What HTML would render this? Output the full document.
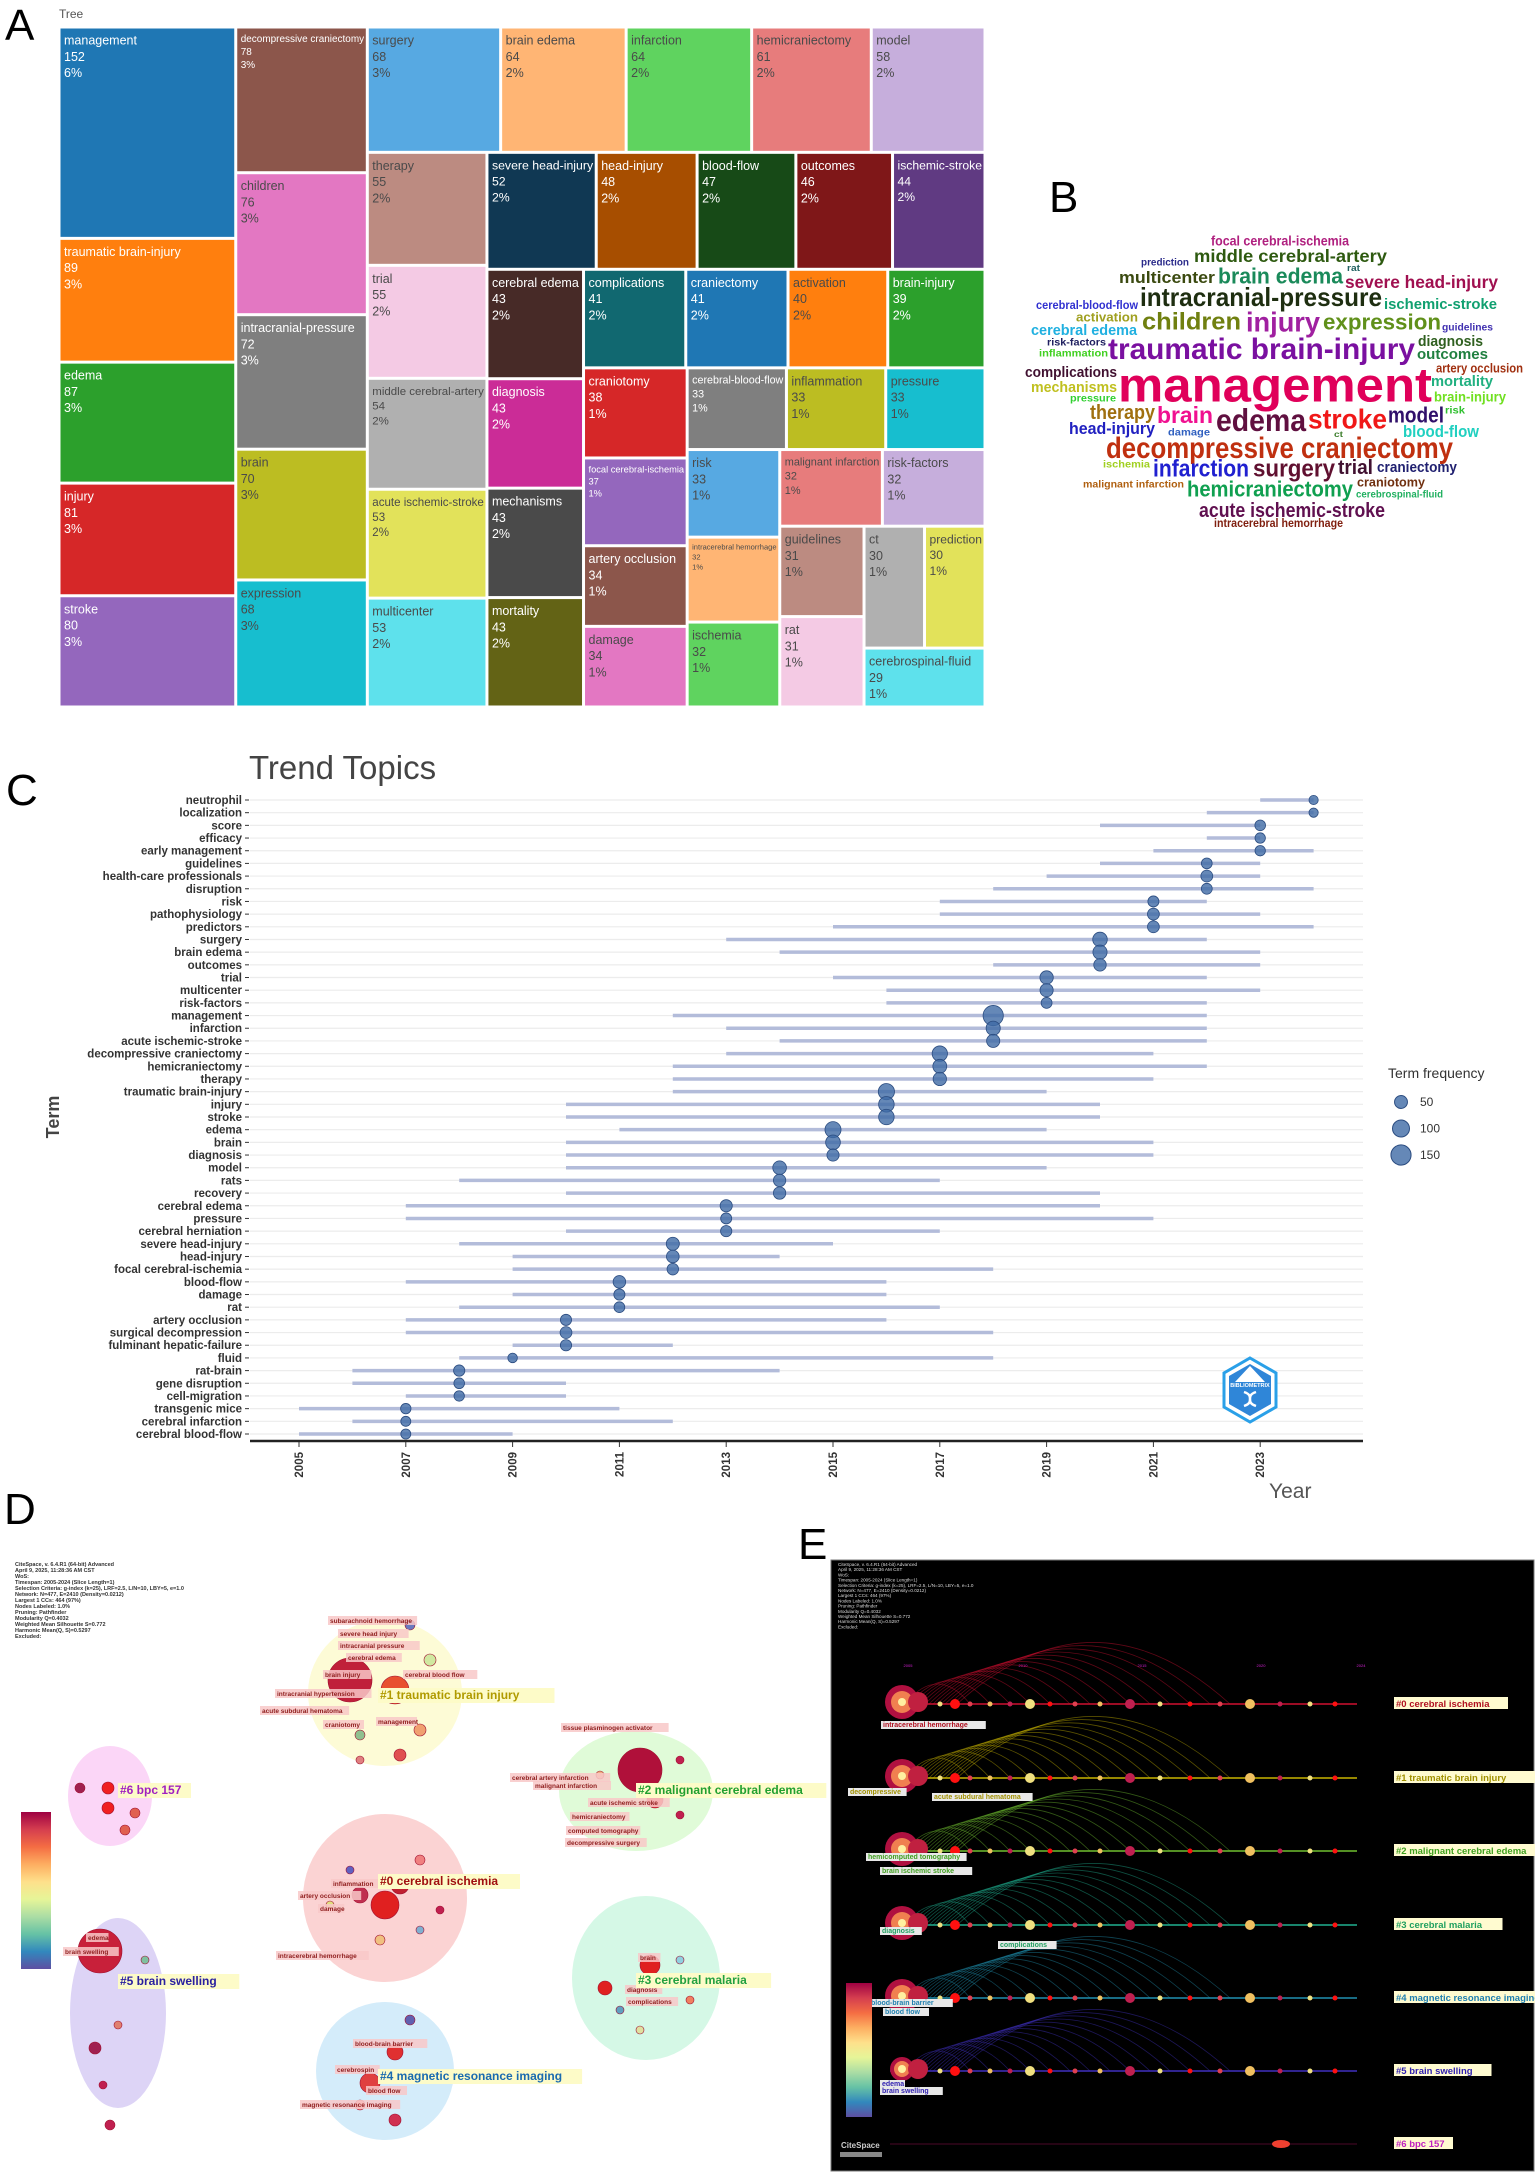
<!DOCTYPE html>
<html><head><meta charset="utf-8">
<style>
html,body{margin:0;padding:0;background:#fff;}
svg{display:block;font-family:"Liberation Sans",sans-serif;}
</style></head>
<body>
<svg id="fig" width="1535" height="2172" viewBox="0 0 1535 2172" xmlns="http://www.w3.org/2000/svg">
<g font-family="Liberation Sans" font-size="44" fill="#000">
<text x="5" y="40">A</text>
<text x="1049" y="212">B</text>
<text x="6" y="805">C</text>
<text x="4" y="1524">D</text>
<text x="798" y="1559">E</text>
</g>
<text x="59" y="18" font-size="12" fill="#555">Tree</text>
<g id="treemap"></g>
<g id="cloud"></g>
<g id="trend"></g>
<g id="panelD"></g>
<g id="panelE"></g>
</svg>
<script>
const NS="http://www.w3.org/2000/svg";
function mk(tag,attrs,parent){const e=document.createElementNS(NS,tag);for(const k in attrs)e.setAttribute(k,attrs[k]);if(parent)parent.appendChild(e);return e;}

/* ---------- TREEMAP DATA ---------- */
const tmNames=["management","traumatic brain-injury","edema","injury","stroke","decompressive craniectomy","children","intracranial-pressure","brain","expression","surgery","brain edema","infarction","hemicraniectomy","model","therapy","trial","middle cerebral-artery","acute ischemic-stroke","multicenter","severe head-injury","head-injury","blood-flow","outcomes","ischemic-stroke","cerebral edema","diagnosis","mechanisms","mortality","complications","craniectomy","activation","brain-injury","craniotomy","focal cerebral-ischemia","artery occlusion","damage","cerebral-blood-flow","inflammation","pressure","risk","intracerebral hemorrhage","ischemia","malignant infarction","risk-factors","guidelines","rat","ct","prediction","cerebrospinal-fluid"];
const tmValues=[152,89,87,81,80,78,76,72,70,68,68,64,64,61,58,55,55,54,53,53,52,48,47,46,44,43,43,43,43,41,41,40,39,38,37,34,34,33,33,33,33,32,32,32,32,31,31,30,30,29];
const tmColors=["#1f77b4","#ff7f0e","#2ca02c","#d62728","#9467bd","#8c564b","#e377c2","#7f7f7f","#bcbd22","#17becf","#57a9e2","#ffb574","#5fd35f","#e77c7c","#c6aedc","#bc8b81","#f4cae4","#b0b0b0","#e2e25a","#5ee1ec","#103853","#a74e00","#174a17","#7f1718","#603a82","#472a27","#cb2c97","#4a4a4a","#636315","#116870","#1f77b4","#ff7f0e","#2ca02c","#d62728","#9467bd","#8c564b","#e377c2","#7f7f7f","#bcbd22","#17becf","#57a9e2","#ffb574","#5fd35f","#e77c7c","#c6aedc","#bc8b81","#f4cae4","#b0b0b0","#e2e25a","#5ee1ec"];
const tmDarkText=["children","brain","expression","surgery","brain edema","infarction","hemicraniectomy","model","therapy","trial","middle cerebral-artery","acute ischemic-stroke","multicenter","inflammation","pressure","risk","intracerebral hemorrhage","ischemia","malignant infarction","risk-factors","guidelines","rat","ct","prediction","cerebrospinal-fluid","damage","activation"];

(function(){
 const g=document.getElementById('treemap');
 const X0=59,Y0=27,W=926,H=680;
 const total=tmValues.reduce((a,b)=>a+b,0);
 const unit=W*H/total;
 const areas=tmValues.map(v=>v*unit);
 const rects=[];
 let rx=X0,ry=Y0,rw=W,rh=H,i=0;
 function worst(row,side){const s=row.reduce((a,b)=>a+b,0);const mx=Math.max(...row),mn=Math.min(...row);return Math.max(side*side*mx/(s*s),s*s/(side*side*mn));}
 while(i<areas.length){
  const side=Math.min(rw,rh);let row=[areas[i]];let j=i+1;
  const tol=(areas.length-i<=3)?1.3:1.0;
  while(j<areas.length && worst(row.concat([areas[j]]),side)<=worst(row,side)*tol){row.push(areas[j]);j++;}
  const s=row.reduce((a,b)=>a+b,0);
  if(rw>=rh){const cw=s/rh;let yy=ry;for(let k=0;k<row.length;k++){const hh=row[k]/cw;rects.push([rx,yy,cw,hh]);yy+=hh;}rx+=cw;rw-=cw;}
  else{const ch=s/rw;let xx=rx;for(let k=0;k<row.length;k++){const ww=row[k]/ch;rects.push([xx,ry,ww,ch]);xx+=ww;}ry+=ch;rh-=ch;}
  i=j;
 }
 const cv=document.createElement('canvas').getContext('2d');
 rects.forEach((r,k)=>{
  const cell=mk('g',{},g);
  
  
  mk('rect',{x:r[0]+1.5,y:r[1]+1.5,width:Math.max(0,r[2]-3),height:Math.max(0,r[3]-3),fill:tmColors[k]},cell);
  const col=tmDarkText.includes(tmNames[k])?'#4a4a4a':'#fff';
  let fs=12.5;cv.font=fs+'px "Liberation Sans"';
  const wmax=r[2]-8;const tw=cv.measureText(tmNames[k]).width;
  if(tw>wmax)fs=Math.max(7,fs*wmax/tw);
  const lh=fs*1.3;
  const t=mk('text',{x:r[0]+5,y:r[1]+5+fs,'font-size':fs,fill:col},cell);
  t.textContent=tmNames[k];
  const t2=mk('text',{x:r[0]+5,y:r[1]+5+fs+lh,'font-size':fs,fill:col},cell);
  t2.textContent=tmValues[k];
  const t3=mk('text',{x:r[0]+5,y:r[1]+5+fs+2*lh,'font-size':fs,fill:col},cell);
  t3.textContent=Math.round(tmValues[k]/total*100)+'%';
 });
})();

/* ---------- WORD CLOUD ---------- */
const wcWords=["focal cerebral-ischemia","middle cerebral-artery","prediction","rat","multicenter","brain edema","severe head-injury","intracranial-pressure","cerebral-blood-flow","ischemic-stroke","activation","children","injury","expression","cerebral edema","guidelines","risk-factors","traumatic brain-injury","diagnosis","inflammation","outcomes","complications","artery occlusion","management","mortality","mechanisms","pressure","brain-injury","therapy","brain","edema","stroke","model","risk","head-injury","damage","ct","blood-flow","decompressive craniectomy","ischemia","infarction","surgery","trial","craniectomy","malignant infarction","hemicraniectomy","craniotomy","cerebrospinal-fluid","acute ischemic-stroke","intracerebral hemorrhage"];
const wcLeft=[1211,1194,1141,1347,1119,1218,1345,1140,1036,1384,1076,1142,1246,1323,1031,1442,1047,1108,1418,1039,1417,1025,1436,1118,1431,1031,1070,1434,1090,1157,1216,1308,1388,1445,1069,1168,1334,1403,1106,1103,1153,1253,1338,1377,1083,1187,1357,1356,1199,1214];
const wcRight=[1349,1387,1189,1360,1215,1343,1498,1382,1138,1497,1138,1241,1320,1441,1137,1493,1106,1415,1483,1108,1488,1117,1523,1432,1493,1117,1116,1506,1155,1213,1306,1387,1444,1465,1155,1210,1343,1479,1453,1150,1249,1335,1373,1457,1184,1353,1425,1443,1385,1343];
const wcY=[241,256,262,268,277,276,282,297,305,304,317,321,322,322,330,327,342,349,341,353,354,372,368,385,381,387,398,397,412,415,420,419,415,410,428,432,434,431,448,464,468,468,467,467,484,489,482,494,510,523];
const wcSize=[13,17,10,9,16,21,17,25,11,14,12,23,26,21,14,10,10,28,14,10,14,14,12,46,14,14,10,13,19,22,30,26,21,10,16,10,8,16,28,10,23,23,19,14,10,21,12,10,19,11];
const wcColor=["#b0207f","#2e5a10","#2a2a8a","#206060","#3b4a10","#1a8a5a","#a01050","#1e2e10","#3030d0","#10a070","#a0a020","#708010","#a020a0","#60901a","#20b0e0","#4030b0","#202060","#7a10a0","#306020","#40d020","#208040","#401030","#a03010","#e0005a","#20b080","#c0c020","#30d030","#70e020","#a07010","#f01090","#601040","#f01818","#30106a","#30c030","#2020c0","#3060c0","#408030","#20d0c0","#c03010","#a0d020","#2020d0","#601030","#401030","#202070","#b06010","#10a050","#703010","#20b060","#601050","#802010"];
(function(){
 const g=document.getElementById('cloud');
 wcWords.forEach((w,i)=>{
  const t=mk('text',{x:wcLeft[i],y:wcY[i]+wcSize[i]*0.36,'font-size':wcSize[i]*1.05,'font-weight':'bold','font-family':'Liberation Sans Narrow, Liberation Sans, sans-serif',fill:wcColor[i],textLength:wcRight[i]-wcLeft[i],lengthAdjust:'spacingAndGlyphs'},g);
  
  
  t.textContent=w;
 });
})();

/* ---------- TREND TOPICS ---------- */
const trTerms=["neutrophil","localization","score","efficacy","early management","guidelines","health-care professionals","disruption","risk","pathophysiology","predictors","surgery","brain edema","outcomes","trial","multicenter","risk-factors","management","infarction","acute ischemic-stroke","decompressive craniectomy","hemicraniectomy","therapy","traumatic brain-injury","injury","stroke","edema","brain","diagnosis","model","rats","recovery","cerebral edema","pressure","cerebral herniation","severe head-injury","head-injury","focal cerebral-ischemia","blood-flow","damage","rat","artery occlusion","surgical decompression","fulminant hepatic-failure","fluid","rat-brain","gene disruption","cell-migration","transgenic mice","cerebral infarction","cerebral blood-flow"];
const trStart=[2023,2022,2020,2022,2021,2020,2019,2018,2017,2017,2015,2013,2014,2018,2015,2016,2016,2012,2013,2014,2013,2012,2012,2012,2010,2010,2011,2010,2010,2010,2008,2010,2007,2007,2010,2008,2009,2009,2007,2009,2008,2007,2007,2009,2008,2006,2006,2007,2005,2006,2005];
const trPeak=[2024,2024,2023,2023,2023,2022,2022,2022,2021,2021,2021,2020,2020,2020,2019,2019,2019,2018,2018,2018,2017,2017,2017,2016,2016,2016,2015,2015,2015,2014,2014,2014,2013,2013,2013,2012,2012,2012,2011,2011,2011,2010,2010,2010,2009,2008,2008,2008,2007,2007,2007];
const trEnd=[2024,2024,2023,2023,2024,2023,2023,2024,2022,2023,2024,2022,2023,2023,2022,2023,2022,2022,2022,2022,2021,2022,2021,2019,2020,2020,2019,2021,2021,2019,2017,2020,2020,2021,2017,2015,2014,2018,2016,2016,2017,2016,2018,2012,2018,2014,2010,2010,2011,2012,2009];
const trFreq=[20,20,30,28,28,31,40,32,33,40,40,68,64,46,55,53,32,152,64,53,78,61,55,89,81,80,87,70,43,58,45,45,43,33,35,52,48,37,47,34,31,34,40,35,22,35,30,28,28,25,25];
const trTicks=[2005,2007,2009,2011,2013,2015,2017,2019,2021,2023];
const trLegend=[50,100,150];
(function(){
 const g=document.getElementById('trend');
 const xS=y=>299+(y-2005)*53.4;
 const yS=i=>800+i*12.68;
 const rS=f=>1.5+0.7*Math.sqrt(f);
 const L=250,R=1363;
 const title=mk('text',{x:249,y:779,'font-size':33,fill:'#444','font-family':'Liberation Sans Narrow, Liberation Sans, sans-serif'},g);
 title.textContent='Trend Topics';
 trTerms.forEach((t,i)=>{
  const y=yS(i);
  const gl=mk('line',{x1:L,x2:R,y1:y,y2:y,stroke:'#ececec','stroke-width':1.2},g);
  
 });
 trTerms.forEach((t,i)=>{
  const y=yS(i);
  const lab=mk('text',{x:242,y:y+4,'font-size':11.5,'font-weight':'bold',fill:'#333','text-anchor':'end','font-family':'Liberation Sans Narrow, Liberation Sans, sans-serif'},g);
  lab.textContent=t;
  mk('line',{x1:245,x2:249,y1:y,y2:y,stroke:'#333'},g);
  const seg=mk('line',{x1:xS(trStart[i]),x2:xS(trEnd[i]),y1:y,y2:y,stroke:'#b3bcda','stroke-width':3.5},g);
  
 });
 trTerms.forEach((t,i)=>{
  const c=mk('circle',{cx:xS(trPeak[i]),cy:yS(i),r:rS(trFreq[i]),fill:'#3f6aa5','fill-opacity':0.8,stroke:'#2b4c80','stroke-width':0.8},g);
  
 });
 const ax=mk('line',{x1:L,x2:R,y1:1441,y2:1441,stroke:'#222','stroke-width':2.5},g);
 
 trTicks.forEach(yr=>{
  const x=xS(yr);
  mk('line',{x1:x,x2:x,y1:1442,y2:1447,stroke:'#333'},g);
  const tl=mk('text',{x:0,y:0,'font-size':11.5,'font-weight':'bold',fill:'#333','text-anchor':'end',transform:`translate(${x+4},1452) rotate(-90)`},g);
  tl.textContent=yr;
 });
 const xt=mk('text',{x:1269,y:1498,'font-size':21,fill:'#555','font-family':'Liberation Sans Narrow, Liberation Sans, sans-serif'},g);
 xt.textContent='Year';
 const yt=mk('text',{x:0,y:0,'font-size':18,'font-weight':'bold',fill:'#444','text-anchor':'middle',transform:'translate(59,1117) rotate(-90)'},g);
 yt.textContent='Term';
 const lg=mk('g',{},g);
 const lt=mk('text',{x:1388,y:1078,'font-size':14,fill:'#333'},lg);lt.textContent='Term frequency';
 trLegend.forEach((v,k)=>{
  const y=1102+k*26.5;
  const lc=mk('circle',{cx:1401,cy:y,r:rS(v),fill:'#3f6aa5','fill-opacity':0.8,stroke:'#2b4c80'},lg);
  
  const tx=mk('text',{x:1420,y:y+4,'font-size':12,fill:'#333'},lg);tx.textContent=v;
 });
 const lo=mk('g',{transform:'translate(1250,1390)'},g);
 mk('polygon',{points:'0,-32 26,-17 26,17 0,32 -26,17 -26,-17',fill:'#fff',stroke:'#2aa0e8','stroke-width':3},lo);
 mk('polygon',{points:'0,-26 21,-14 21,14 0,26 -21,14 -21,-14',fill:'#2f86d8'},lo);
 mk('polygon',{points:'0,-24 -15,-8 15,-8',fill:'#fff'},lo);
 const lt2=mk('text',{x:0,y:-3,'font-size':5.5,'font-weight':'bold',fill:'#fff','text-anchor':'middle'},lo);lt2.textContent='BIBLIOMETRIX';
 mk('path',{d:'M-6,2 C6,6 -6,12 6,16 M-6,16 C6,12 -6,6 6,2',stroke:'#fff','stroke-width':2.5,fill:'none'},lo);
})();

/* ---------- PANEL D ---------- */
const dClusters=["#0 cerebral ischemia","#1 traumatic brain injury","#2 malignant cerebral edema","#3 cerebral malaria","#4 magnetic resonance imaging","#5 brain swelling","#6 bpc 157"];
(function(){
 const g=document.getElementById('panelD');
 const blobs=[[385,1898,82,84,'#fbd3d3'],[385,1693,77,73,'#fdfbd6'],[636,1791,77,60,'#e0fbd8'],[646,1978,74,82,'#d5f8e6'],[385,2071,69,69,'#d4ecfa'],[118,2013,48,95,'#ddd4f6'],[110,1796,42,50,'#fbd6f7']];
 const lbl=[[380,1885,'#a01010'],[380,1699,'#b09a00'],[638,1794,'#22a030'],[638,1984,'#22a040'],[380,2080,'#1a6ab0'],[120,1985,'#2a20a0'],[120,1794,'#a020c0']];
 blobs.forEach((b,i)=>{const e=mk('ellipse',{cx:b[0],cy:b[1],rx:b[2],ry:b[3],fill:b[4]},g);});
 const dots=[[350,1680,22,'#c0203a'],[395,1690,14,'#e85030'],[420,1730,6,'#f0a070'],[360,1735,5,'#90c090'],[430,1660,6,'#d0e8a0'],[410,1625,5,'#6a7ac0'],[400,1755,6,'#e05050'],[360,1760,4,'#e08080'],
 [385,1905,14,'#e02020'],[360,1895,8,'#c03050'],[400,1885,9,'#c02030'],[350,1870,4,'#6060c0'],[420,1860,5,'#f08080'],[330,1905,4,'#e0e080'],[420,1930,4,'#80b0d0'],[380,1940,5,'#f0c080'],[440,1910,4,'#c02050'],
 [640,1770,22,'#b0103a'],[655,1800,8,'#e03030'],[680,1760,4,'#c02050'],[600,1775,4,'#f0b080'],[680,1815,4,'#c02050'],
 [650,1965,10,'#e02020'],[605,1988,7,'#e02020'],[680,1960,4,'#90d0e0'],[620,2010,4,'#60a0c0'],[690,2000,4,'#f08060'],[640,2030,4,'#e0e0a0'],
 [395,2052,8,'#e03030'],[370,2083,10,'#e04040'],[410,2020,5,'#6060b0'],[360,2105,5,'#f08080'],[395,2120,6,'#d03050'],
 [100,1951,22,'#c8203a'],[95,2048,6,'#a02050'],[118,2025,4,'#e08070'],[103,2085,4,'#c02050'],[110,2125,5,'#c02050'],[145,1960,4,'#80c0a0'],
 [108,1788,6,'#f02020'],[108,1808,6,'#f02020'],[80,1788,5,'#a02050'],[135,1813,5,'#e06050'],[125,1830,5,'#e06050']];
 dots.forEach(d=>{const c=mk('circle',{cx:d[0],cy:d[1],r:d[2],fill:d[3],stroke:'#a01030','stroke-width':0.6},g);});
 const small=[["subarachnoid hemorrhage",330,1623],["severe head injury",340,1636],["intracranial pressure",340,1648],["cerebral edema",348,1660],["brain injury",325,1677],["cerebral blood flow",405,1677],["intracranial hypertension",277,1696],["acute subdural hematoma",262,1713],["craniotomy",325,1727],["management",378,1724],["tissue plasminogen activator",563,1730],["cerebral artery infarction",512,1780],["malignant infarction",535,1788],["acute ischemic stroke",590,1805],["hemicraniectomy",572,1819],["computed tomography",568,1833],["decompressive surgery",567,1845],["inflammation",333,1886],["artery occlusion",300,1898],["damage",320,1911],["intracerebral hemorrhage",278,1958],["edema",88,1940],["brain swelling",65,1954],["brain",640,1960],["diagnosis",627,1992],["complications",628,2004],["blood-brain barrier",355,2046],["cerebrospin",337,2072],["blood flow",368,2093],["magnetic resonance imaging",302,2107]];
 small.forEach(s=>{const w=s[0].length*3.7+4;mk('rect',{x:s[1]-2,y:s[2]-7,width:w,height:9,fill:'#f8c8c8','fill-opacity':0.85},g);const t=mk('text',{x:s[1],y:s[2],'font-size':6.5,'font-weight':'bold',fill:'#902020'},g);t.textContent=s[0];});
 dClusters.forEach((c,i)=>{const l=lbl[i];const w=c.length*6.9+4;mk('rect',{x:l[0]-2,y:l[1]-11,width:w,height:15,fill:'#fdfbc8'},g);const t=mk('text',{x:l[0],y:l[1],'font-size':12,'font-weight':'bold',fill:l[2]},g);t.textContent=c;});
 const info=["CiteSpace, v. 6.4.R1 (64-bit) Advanced","April 9, 2025, 11:28:36 AM CST","WoS:","Timespan: 2005-2024 (Slice Length=1)","Selection Criteria: g-index (k=25), LRF=2.5, L/N=10, LBY=5, e=1.0","Network: N=477, E=2410 (Density=0.0212)","Largest 1 CCs: 464 (97%)","Nodes Labeled: 1.0%","Pruning: Pathfinder","Modularity Q=0.4032","Weighted Mean Silhouette S=0.772","Harmonic Mean(Q, S)=0.5297","Excluded:"];
 info.forEach((s,i)=>{const t=mk('text',{x:15,y:1566+i*6,'font-size':5.5,'font-weight':'bold',fill:'#333'},g);t.textContent=s;});
 const defs=mk('defs',{},document.getElementById('fig'));
 const lgD=mk('linearGradient',{id:'spec',x1:0,y1:1,x2:0,y2:0},defs);
 ['#5e4fa2','#3288bd','#66c2a5','#abdda4','#e6f598','#fee08b','#fdae61','#f46d43','#d53e4f','#9e0142'].forEach((c,k)=>mk('stop',{offset:k/9,'stop-color':c},lgD));
 const cb=mk('rect',{x:21,y:1812,width:30,height:157,fill:'url(#spec)'},g);
})();

/* ---------- PANEL E ---------- */
const eClusters=["#0 cerebral ischemia","#1 traumatic brain injury","#2 malignant cerebral edema","#3 cerebral malaria","#4 magnetic resonance imaging","#5 brain swelling","#6 bpc 157"];
(function(){
 const g=document.getElementById('panelE');
 const bg=mk('rect',{x:831,y:1560,width:703,height:611,fill:'#000',stroke:'#777'},g);
 const ys=[1704,1778,1851,1925,1998,2071,2144];
 const cols=['#d01030','#c8b400','#70c030','#20b090','#2090b0','#4030c0','#801040'];
 const tcol=['#b01020','#a09000','#40a020','#20a060','#2080b0','#3020b0','#c020c0'];
 const x0=890,x1=1357;
 ['2005','2010','2015','2020','2024'].forEach((s,k)=>{const xx=[908,1023,1142,1261,1361][k];const t=mk('text',{x:xx,y:1667,'font-size':4,fill:'#d020d0','text-anchor':'middle'},g);t.textContent=s;});
 ys.forEach((y,i)=>{
  if(i<6){for(let k=0;k<14;k++){const sx=x0+15+k*4;const ex=x0+80+k*20;const h=20+k*3.2;
   mk('path',{d:`M${sx},${y} Q${(sx+ex)/2},${y-2*h} ${ex},${y}`,fill:'none',stroke:cols[i],'stroke-opacity':0.45,'stroke-width':0.8},g);}}
  const ln=mk('line',{x1:x0,x2:x1,y1:y,y2:y,stroke:cols[i],'stroke-width':1.5,'stroke-opacity':i==6?0.4:1},g);
  
  if(i<6){
   mk('circle',{cx:x0+12,cy:y-2,r:i==5?12:17,fill:'#b01040'},g);
   mk('circle',{cx:x0+12,cy:y-2,r:i==5?8:11,fill:'#f08050'},g);
   mk('circle',{cx:x0+12,cy:y-2,r:4,fill:'#fff0a0'},g);
   mk('circle',{cx:x0+28,cy:y-2,r:10,fill:'#c02040'},g);
   [50,65,80,100,120,140,160,185,210,240,270,300,330,360,390,420,445].forEach((dx,k)=>{
    mk('circle',{cx:x0+dx,cy:y,r:(k%4==1?5:2.5),fill:['#f0e080','#ff1010','#e04050','#f0c060','#c02050'][k%5]},g);
   });
  } else {
   mk('ellipse',{cx:1281,cy:y,rx:9,ry:4,fill:'#f04030'},g);
  }
  const w=eClusters[i].length*5.5+4;
  mk('rect',{x:1394,y:y-7,width:w,height:12,fill:'#fffbd0'},g);
  const t=mk('text',{x:1396,y:y+3,'font-size':9.5,'font-weight':'bold',fill:tcol[i]},g);
  t.textContent=eClusters[i];
 });
 const lab=[["intracerebral hemorrhage",883,1727,'#b01020'],["decompressive",850,1794,'#a09000'],["acute subdural hematoma",934,1799,'#a09000'],["brain ischemic stroke",882,1873,'#40a020'],["hemicomputed tomography",868,1859,'#40a020'],["diagnosis",882,1933,'#20a060'],["complications",1000,1947,'#20a060'],["blood-brain barrier",871,2005,'#2080b0'],["blood flow",885,2014,'#2080b0'],["edema",882,2086,'#3020b0'],["brain swelling",882,2093,'#3020b0']];
 lab.forEach(l=>{const w=l[0].length*4.2+4;mk('rect',{x:l[1]-2,y:l[2]-6,width:w,height:8,fill:'#e8e8e8'},g);const t=mk('text',{x:l[1],y:l[2],'font-size':7,'font-weight':'bold',fill:l[3]},g);t.textContent=l[0];});
 const info=["CiteSpace, v. 6.4.R1 (64-bit) Advanced","April 9, 2025, 11:28:36 AM CST","WoS:","Timespan: 2005-2024 (Slice Length=1)","Selection Criteria: g-index (k=25), LRF=2.5, L/N=10, LBY=5, e=1.0","Network: N=477, E=2410 (Density=0.0212)","Largest 1 CCs: 464 (97%)","Nodes Labeled: 1.0%","Pruning: Pathfinder","Modularity Q=0.4032","Weighted Mean Silhouette S=0.772","Harmonic Mean(Q, S)=0.5297","Excluded:"];
 info.forEach((s,i)=>{const t=mk('text',{x:838,y:1566+i*5.2,'font-size':4.6,fill:'#ddd'},g);t.textContent=s;});
 const cb=mk('rect',{x:846,y:1983,width:26,height:134,fill:'url(#spec)'},g);
 const cs=mk('text',{x:841,y:2148,'font-size':8,fill:'#ccc','font-weight':'bold'},g);cs.textContent='CiteSpace';
 mk('rect',{x:840,y:2152,width:42,height:5,fill:'#888'},g);
})();
</script>
</body></html>
